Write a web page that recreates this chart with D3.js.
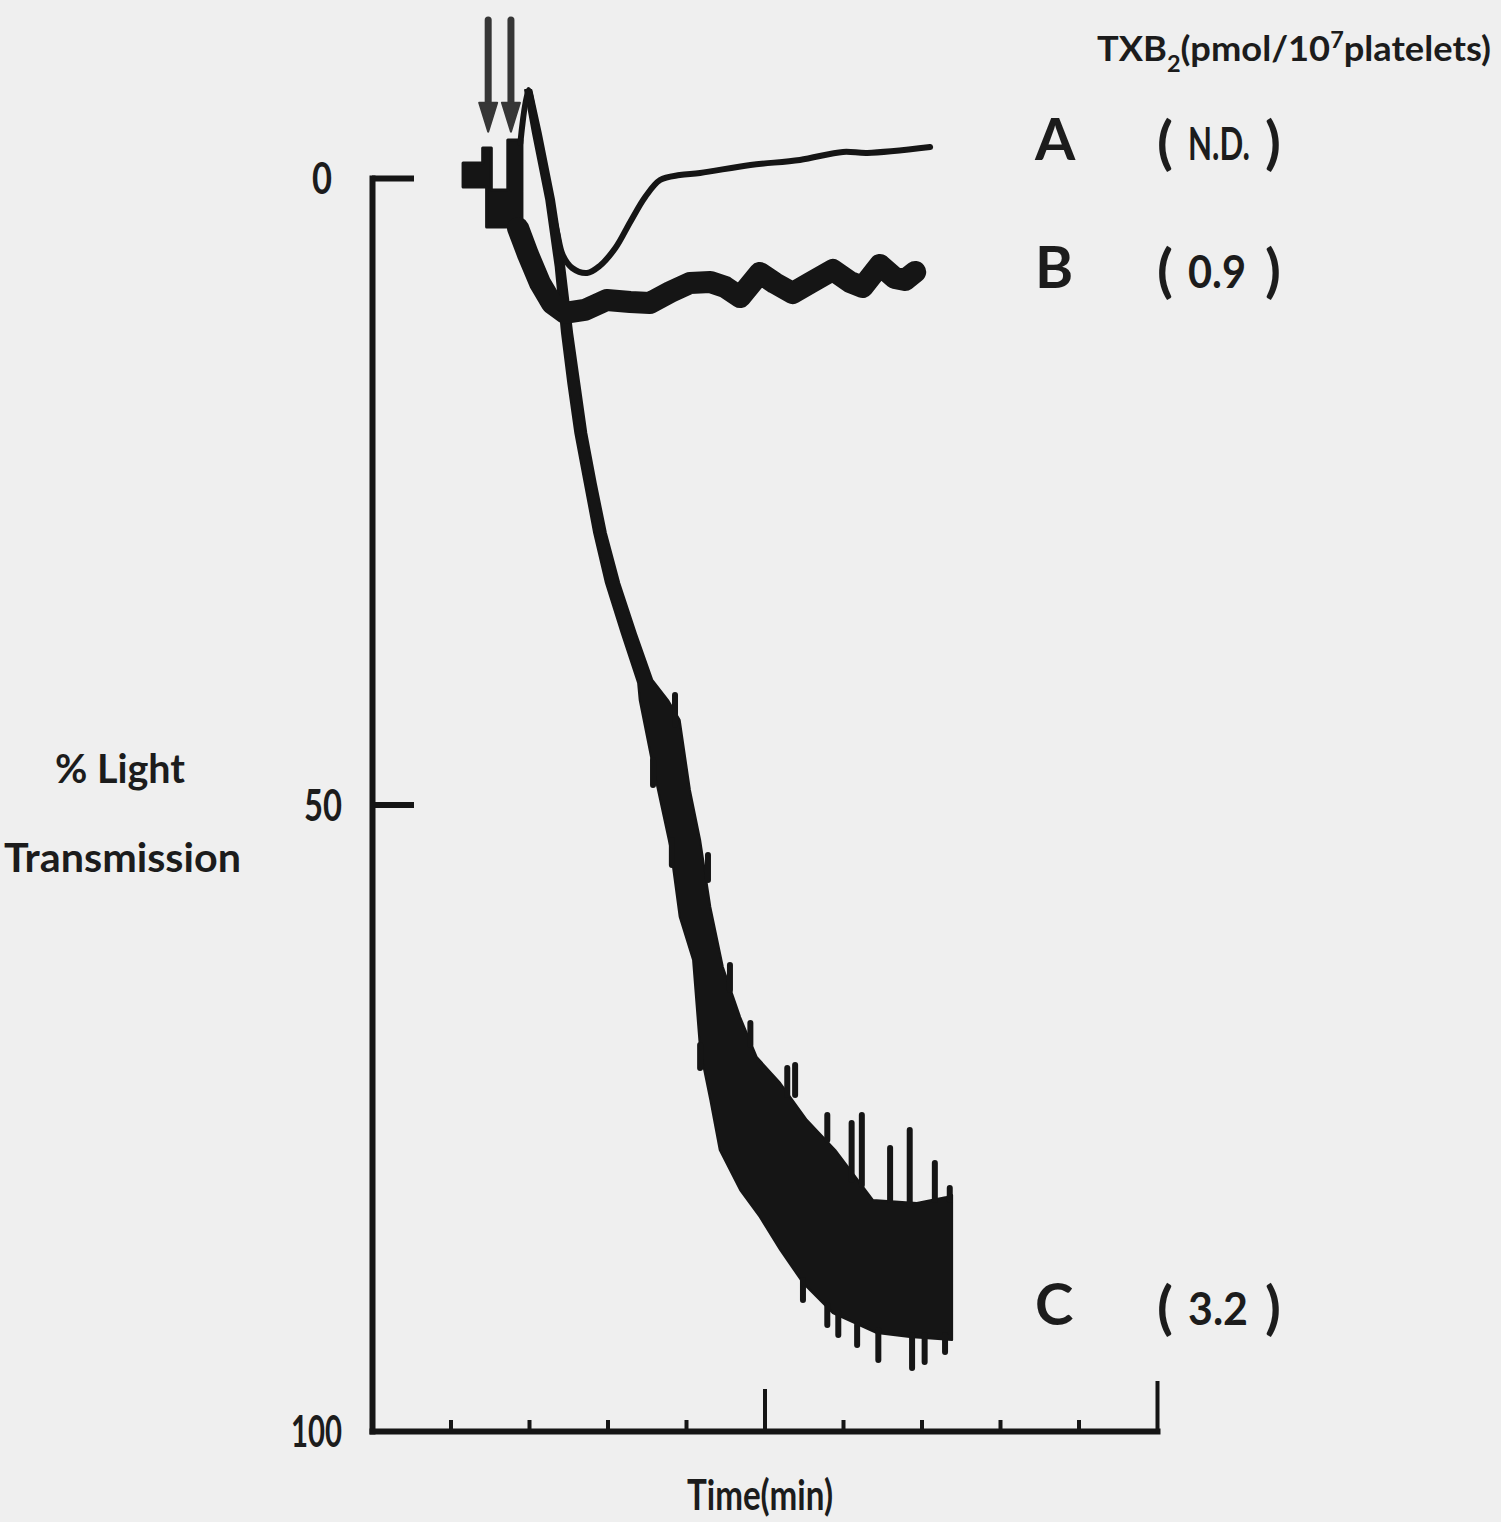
<!DOCTYPE html>
<html>
<head>
<meta charset="utf-8">
<script src="https://cdn.jsdelivr.net/npm/d3@7/dist/d3.min.js"></script>
<style>
  html, body { margin: 0; padding: 0; background: #efefef; }
  svg { display: block; }
  text { font-family: Lato, "DejaVu Sans", sans-serif; font-weight: 700; fill: #1c1c1c; }
</style>
</head>
<body>
<svg width="1501" height="1522"></svg>
<script>
// axes: time in minutes, % light transmission (0 at the top)
const timeTicks = [1, 2, 3, 4, 5, 6, 7, 8, 9, 10];
const percentTicks = [0, 50, 100];

// recorder traces, [time (min), % transmission]
const preTrace = [
    [1.16, -1.20], [1.41, -1.20], [1.41, -2.39], [1.52, -2.39], [1.52, 0.96], [1.73, 0.96],
    [1.73, -3.03], [1.91, -3.03], [1.91, 3.91], [1.46, 3.91], [1.46, 0.72], [1.16, 0.72]
];
const traceA = [
    [1.89, -2.79], [1.99, -7.02], [2.05, -5.43], [2.10, -3.59], [2.19, -0.80], [2.27, 1.76],
    [2.36, 4.39], [2.43, 6.15], [2.55, 7.18], [2.74, 7.58], [2.90, 7.02], [3.10, 5.59],
    [3.29, 3.51], [3.48, 1.52], [3.67, 0.16], [3.92, -0.24], [4.18, -0.40], [4.82, -1.04],
    [5.45, -1.44], [6.00, -2.08], [6.31, -2.00], [7.11, -2.47]
];
const traceB = [
    [1.86, 3.99], [1.99, 6.15], [2.14, 8.38], [2.29, 9.98], [2.46, 10.77], [2.71, 10.53],
    [2.99, 9.74], [3.29, 9.90], [3.54, 9.98], [3.80, 9.10], [4.05, 8.38], [4.31, 8.30],
    [4.50, 8.70], [4.69, 9.50], [4.94, 7.58], [5.13, 8.38], [5.36, 9.18], [5.58, 8.38],
    [5.87, 7.34], [6.09, 8.30], [6.25, 8.70], [6.47, 6.94], [6.66, 7.98], [6.79, 8.14],
    [6.92, 7.50]
];
// trace C is a noisy band: upper (right) edge and lower (left) edge
const traceCUpper = [
    [2.03, -7.02], [2.15, -3.59], [2.32, 1.76], [2.45, 7.10], [2.55, 12.37], [2.64, 16.36],
    [2.73, 20.35], [2.85, 24.34], [2.98, 28.33], [3.15, 32.32], [3.36, 36.31], [3.57, 40.06],
    [3.77, 41.66], [3.92, 43.26], [4.05, 48.84], [4.18, 52.83], [4.31, 58.18], [4.47, 62.97],
    [4.69, 66.96], [4.90, 70.15], [5.20, 72.23], [5.54, 75.18], [5.90, 77.57], [6.38, 81.56],
    [6.94, 81.80], [7.32, 81.32], [7.39, 81.17]
];
const traceCLower = [
    [1.95, -7.02], [2.05, -3.59], [2.22, 1.76], [2.34, 7.10], [2.42, 12.37], [2.50, 16.36],
    [2.59, 20.35], [2.71, 24.34], [2.83, 28.33], [2.98, 32.32], [3.18, 36.31], [3.39, 40.30],
    [3.41, 41.66], [3.58, 47.01], [3.80, 53.39], [3.92, 58.98], [4.09, 62.41], [4.18, 69.59],
    [4.31, 73.58], [4.43, 77.57], [4.69, 80.77], [4.94, 82.92], [5.20, 85.55], [5.49, 88.19],
    [5.87, 90.58], [6.43, 92.18], [6.85, 92.50], [7.39, 92.74]
];
// single pen spikes on trace C, [time, from %, to %]
const spikesUp = [
    [3.86, 41.26, 43.65], [4.28, 54.03, 56.03], [4.56, 62.81, 64.80], [4.82, 67.44, 69.19],
    [5.29, 71.03, 73.18], [5.39, 70.79, 73.18], [5.80, 74.78, 76.78], [6.11, 75.42, 79.97],
    [6.24, 74.78, 80.37], [6.60, 77.41, 81.56], [6.85, 75.98, 81.96], [7.17, 78.61, 81.56],
    [7.36, 80.61, 81.56]
];
const spikesDown = [
    [3.58, 46.45, 48.44], [3.82, 52.83, 54.83], [4.18, 69.19, 71.03], [5.49, 87.95, 89.54],
    [5.80, 89.94, 91.54], [5.94, 90.58, 92.34], [6.18, 91.54, 93.14], [6.45, 91.94, 94.33],
    [6.88, 92.34, 94.97], [7.04, 92.34, 94.49], [7.30, 92.34, 93.69]
];

// additions (arrows), time and % of shaft top / arrow tip
const arrowTimes = [1.48, 1.77];
const arrowTop = -12.6;
const arrowTip = -3.7;

const curveNames = ["A", "B", "C"];
const txbValues = ["N.D.", "0.9", "3.2"];

const svg = d3.select("svg");
const ink = "#151515";

const x = d3.scaleLinear().domain([0, 10]).range([372, 1157]);
const y = d3.scaleLinear().domain([0, 100]).range([178, 1431]);

const line = d3.line().x(d => x(d[0])).y(d => y(d[1]));

// squeeze a text horizontally so it takes `width` px (the scan's lettering is condensed)
function fitText(sel, px, py, width) {
    const w = sel.node().getComputedTextLength();
    sel.attr("transform", `translate(${px},${py}) scale(${width / w},1)`);
    return sel;
}

// y axis, ticks pointing into the plot
const yAxis = svg.append("g")
    .attr("transform", `translate(${x(0)},0)`)
    .call(d3.axisLeft(y).tickValues(percentTicks).tickSize(-42).tickSizeOuter(0).tickPadding(30));
yAxis.select(".domain").attr("stroke", ink).attr("stroke-width", 6).attr("stroke-linecap", "square");
yAxis.selectAll(".tick line").attr("stroke", ink).attr("stroke-width", 6)
    .attr("display", d => d === 100 ? "none" : null);
yAxis.selectAll(".tick text")
    .attr("font-size", 44)
    .attr("dy", "0.36em")
    .attr("dx", d => d === 0 ? -10 : 0)
    .attr("fill", ink)
    .attr("textLength", d => d === 0 ? 20 : d === 50 ? 38 : 51)
    .attr("lengthAdjust", "spacingAndGlyphs");

// time axis, no labels
const xAxis = svg.append("g")
    .attr("transform", `translate(0,${y(100)})`)
    .call(d3.axisBottom(x).tickValues(timeTicks).tickSize(-11).tickSizeOuter(0).tickFormat(""));
xAxis.select(".domain").attr("stroke", ink).attr("stroke-width", 6).attr("stroke-linecap", "square");
xAxis.selectAll(".tick line").attr("stroke", ink).attr("stroke-width", 4)
    .attr("y2", d => d === 5 ? -42 : d === 10 ? -50 : -11);

// baseline before stimulation
svg.append("path")
    .attr("d", line(preTrace) + "Z")
    .attr("fill", ink).attr("stroke", ink).attr("stroke-width", 3).attr("stroke-linejoin", "round");

// trace C: filled band + spikes
svg.append("path")
    .attr("d", line(traceCUpper.concat(traceCLower.slice().reverse())) + "Z")
    .attr("fill", ink).attr("stroke", ink).attr("stroke-width", 2).attr("stroke-linejoin", "round");

svg.append("g").selectAll("line")
    .data(spikesUp.concat(spikesDown))
    .join("line")
    .attr("x1", d => x(d[0])).attr("x2", d => x(d[0]))
    .attr("y1", d => y(d[1])).attr("y2", d => y(d[2]))
    .attr("stroke", ink).attr("stroke-width", 6).attr("stroke-linecap", "round");

// trace B (thick, noisy)
svg.append("path")
    .attr("d", line(traceB))
    .attr("fill", "none").attr("stroke", ink).attr("stroke-width", 22)
    .attr("stroke-linejoin", "round").attr("stroke-linecap", "round");

// trace A (thin)
svg.append("path")
    .attr("d", d3.line().x(d => x(d[0])).y(d => y(d[1])).curve(d3.curveCatmullRom)(traceA))
    .attr("fill", "none").attr("stroke", ink).attr("stroke-width", 6)
    .attr("stroke-linejoin", "round").attr("stroke-linecap", "round");

// arrows for the additions
const arrows = svg.append("g").attr("fill", "#363636").attr("stroke", "#363636");
arrowTimes.forEach(t => {
    const ax = x(t), top = y(arrowTop), tip = y(arrowTip);
    arrows.append("line")
        .attr("x1", ax).attr("x2", ax).attr("y1", top).attr("y2", tip - 20)
        .attr("stroke-width", 7).attr("stroke-linecap", "round");
    arrows.append("path")
        .attr("d", `M${ax - 9},${tip - 29}L${ax + 9},${tip - 29}L${ax},${tip}Z`)
        .attr("stroke-width", 2).attr("stroke-linejoin", "round");
});

// axis titles
svg.append("text").attr("x", 55).attr("y", 783).attr("font-size", 40)
    .attr("textLength", 130).attr("lengthAdjust", "spacingAndGlyphs").text("% Light");
svg.append("text").attr("x", 4).attr("y", 872).attr("font-size", 40)
    .attr("textLength", 237).attr("lengthAdjust", "spacingAndGlyphs").text("Transmission");
svg.append("text").attr("x", 687).attr("y", 1510).attr("font-size", 42)
    .attr("textLength", 146).attr("lengthAdjust", "spacingAndGlyphs").text("Time(min)");

// TXB2 heading, one text with sub/superscript
const head = svg.append("text").attr("x", 1097).attr("y", 61).attr("font-size", 34)
    .attr("textLength", 394).attr("lengthAdjust", "spacingAndGlyphs");
head.append("tspan").text("TXB");
head.append("tspan").attr("font-size", 22).attr("dy", 11).text("2");
head.append("tspan").attr("dy", -11).text("(pmol/10");
head.append("tspan").attr("font-size", 22).attr("dy", -13).text("7");
head.append("tspan").attr("dy", 13).text("platelets)");

// curve names with TXB2 values
const rowBase = [160, 288, 1325];
const valueWidth = [62, 58, 60];
curveNames.forEach((name, i) => {
    svg.append("text").attr("x", 1035).attr("y", rowBase[i]).attr("font-size", 58).text(name);
    svg.append("text").attr("x", 1157).attr("y", rowBase[i] + 3)
        .attr("font-size", 58).attr("font-weight", 400).text("(");
    fitText(svg.append("text").attr("font-size", 46).text(txbValues[i]), 1188, rowBase[i], valueWidth[i]);
    svg.append("text").attr("x", 1265).attr("y", rowBase[i] + 3)
        .attr("font-size", 58).attr("font-weight", 400).text(")");
});
</script>
</body>
</html>
